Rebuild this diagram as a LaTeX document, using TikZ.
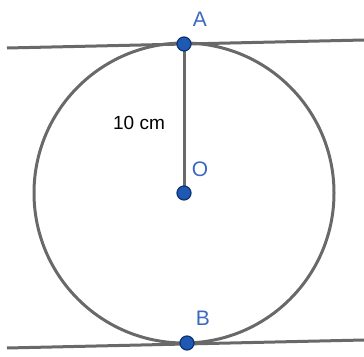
\documentclass[tikz,border=0pt]{standalone}
\usepackage{fontspec}
\setmainfont{Liberation Sans}
\definecolor{lgray}{RGB}{105,105,105}
\definecolor{ptfill}{RGB}{30,90,180}
\definecolor{ptdraw}{RGB}{15,50,110}
\definecolor{lblue}{RGB}{60,105,190}
\begin{document}
\begin{tikzpicture}[x=1pt,y=-1pt,
  geo/.style={draw=lgray,line width=3pt},
  pt/.style={circle,fill=ptfill,draw=ptdraw,line width=1.2pt,inner sep=0pt,minimum size=14pt},
  lbl/.style={text=lblue,font=\fontsize{21}{21}\selectfont,inner sep=0pt}]
\useasboundingbox (0,0) rectangle (364,356);
\coordinate (O) at (184,193);
\coordinate (A) at (184,44);
\coordinate (B) at (187,343);
\coordinate (t1) at (7,48);
\coordinate (t2) at (364,40);
\coordinate (b1) at (7,348);
\coordinate (b2) at (364,340);
\draw[geo] (O) circle (150);
\draw[geo] (t1) -- (t2);
\draw[geo] (b1) -- (b2);
\draw[geo] (A) -- (O);
\node[pt] (pA) at (A) {};
\node[pt] (pO) at (O) {};
\node[pt] (pB) at (B) {};
\node[lbl] (lA) at (200,19) {A};
\node[lbl] (lO) at (200,169) {O};
\node[lbl] (lB) at (203,318) {B};
\node[font=\fontsize{19}{19}\selectfont,inner sep=0pt] (len) at (139,123) {10 cm};
\end{tikzpicture}
\end{document}
